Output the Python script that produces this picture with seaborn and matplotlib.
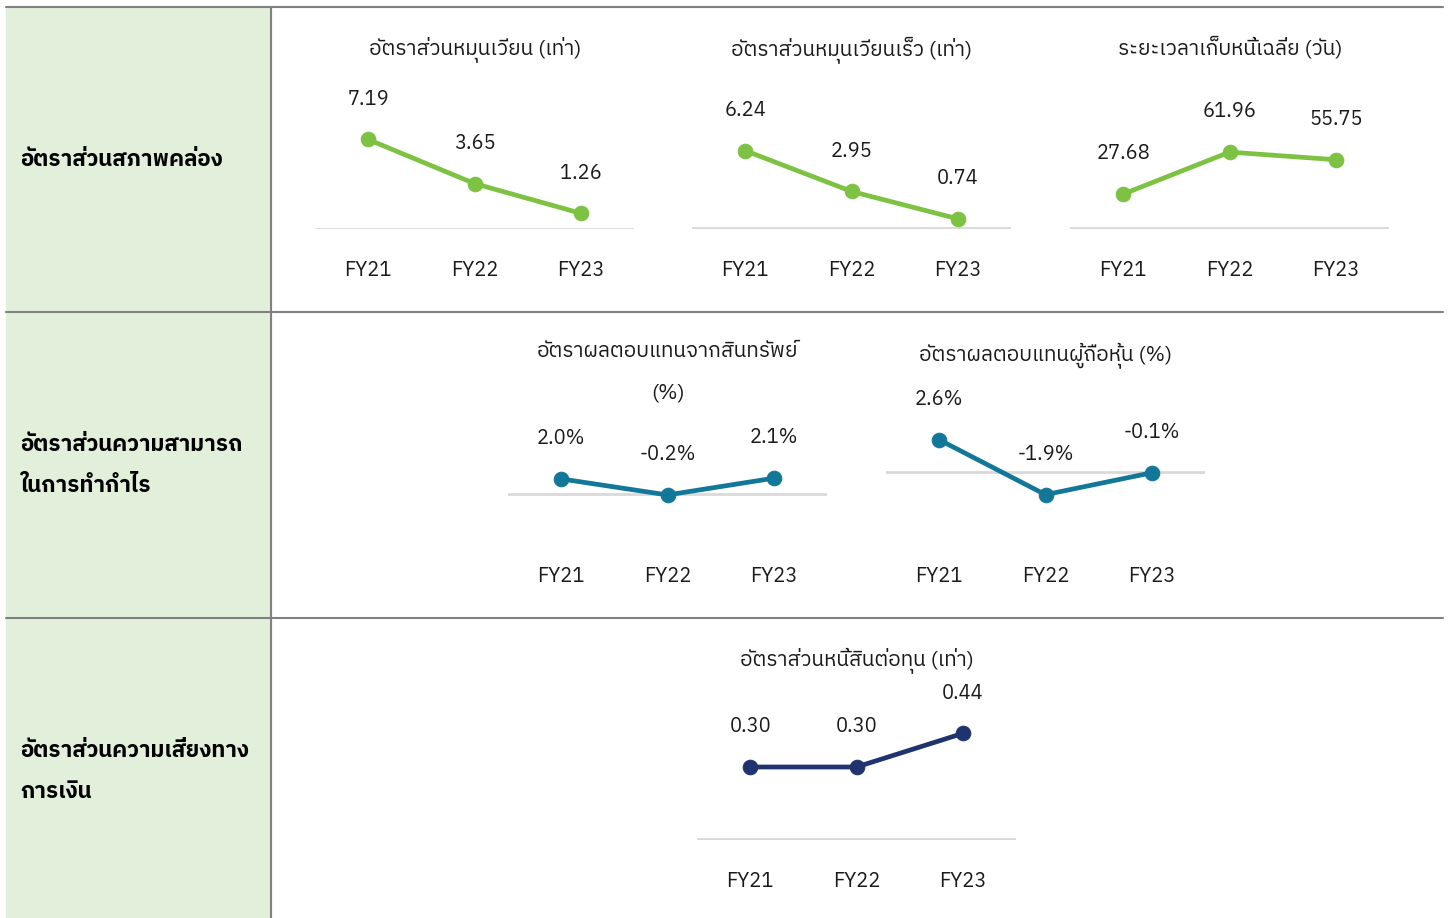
import numpy as np
import pandas as pd
import matplotlib
matplotlib.use("Agg")
import matplotlib.pyplot as plt
import seaborn as sns
from matplotlib import font_manager, ft2font

# -----------------------------
# Data
# -----------------------------
years = ["FY21", "FY22", "FY23"]

current_ratio = [7.19, 3.65, 1.26]
quick_ratio = [6.24, 2.95, 0.74]
collection_days = [27.68, 61.96, 55.75]
roa = [2.0, -0.2, 2.1]
roe = [2.6, -1.9, -0.1]
de_ratio = [0.30, 0.30, 0.44]

row_labels = [
    "อัตราส่วนสภาพคล่อง",
    "อัตราส่วนความสามารถ\nในการทำกำไร",
    "อัตราส่วนความเสี่ยงทาง\nการเงิน",
]

titles = [
    "อัตราส่วนหมุนเวียน (เท่า)",
    "อัตราส่วนหมุนเวียนเร็ว (เท่า)",
    "ระยะเวลาเก็บหนี้เฉลี่ย (วัน)",
    "อัตราผลตอบแทนจากสินทรัพย์\n(%)",
    "อัตราผลตอบแทนผู้ถือหุ้น (%)",
    "อัตราส่วนหนี้สินต่อทุน (เท่า)",
]

# -----------------------------
# Font with Thai glyphs
# -----------------------------
thai_fonts = []
for f in font_manager.fontManager.ttflist:
    try:
        cmap = ft2font.FT2Font(f.fname).get_charmap()
    except Exception:
        continue
    if 0x0E01 in cmap and f.name not in thai_fonts:
        thai_fonts.append(f.name)

thai_fonts.sort(key=lambda n: (0 if "Thai" in n else 1, n))

sns.set_theme(style="white")
plt.rcParams["font.family"] = thai_fonts[:1] + ["DejaVu Sans"]

W, H = 1451, 918
fig = plt.figure(figsize=(W / 100, H / 100), dpi=100)

# -----------------------------
# Table background
# -----------------------------
bg = fig.add_axes([0, 0, 1, 1])
bg.set_xlim(0, W)
bg.set_ylim(H, 0)
bg.axis("off")
bg.add_patch(plt.Rectangle((6, 7), 265, H - 7, color="#E2EFDA", zorder=0))
for y in [7, 312, 618]:
    bg.plot([6, 1443], [y, y], color="#808080", lw=1.5)
bg.plot([271, 271], [7, H], color="#808080", lw=1.5)

for label, y in zip(row_labels, [160, 465, 771]):
    bg.text(20, y, label, fontsize=16, fontweight="bold", color="black",
            va="center", ha="left", linespacing=2.2)


# -----------------------------
# Line panels
# -----------------------------
def draw_panel(cx, base_y, tick_y, scale, values, fmt, color, title, title_y):
    left = cx - 160
    top = title_y + 25
    bottom = tick_y - 40
    ax = fig.add_axes([left / W, 1 - bottom / H, 319 / W, (bottom - top) / H])
    ax.patch.set_alpha(0)

    sns.lineplot(x=years, y=values, ax=ax, color=color, marker="o",
                 linewidth=3.4, markersize=10.5, markeredgecolor=color, zorder=3)
    ax.axhline(0, color="#D9D9D9", lw=2, zorder=1)

    ax.set_xlim(-0.5, 2.5)
    ax.set_ylim(-(bottom - base_y) / scale, (base_y - top) / scale)

    for i, v in enumerate(values):
        ax.annotate(fmt.format(v), (i, v), xytext=(0, 29), textcoords="offset points",
                    ha="center", va="center", fontsize=14.5, color="#1A1A1A")

    ax.set_xticks(range(3))
    ax.set_xticklabels(years, fontsize=14.5, color="#1A1A1A")
    ax.tick_params(axis="x", length=0, pad=23)
    ax.set_yticks([])
    ax.set_xlabel("")
    ax.set_ylabel("")
    for s in ax.spines.values():
        s.set_visible(False)

    fig.text(cx / W, 1 - title_y / H, title, ha="center", va="top",
             fontsize=15, color="#1A1A1A", linespacing=2.5)
    return ax


green = "#7DC242"
teal = "#127799"
navy = "#1F346F"

draw_panel(475, 229, 269, 12.45, current_ratio, "{:.2f}", green, titles[0], 36)
draw_panel(852, 228, 269, 12.4, quick_ratio, "{:.2f}", green, titles[1], 36)
draw_panel(1230, 228, 269, 1.225, collection_days, "{:.2f}", green, titles[2], 36)
draw_panel(668, 493.5, 575, 7.3, roa, "{:.1f}%", teal, titles[3], 342)
draw_panel(1046, 471.5, 575, 12.2, roe, "{:.1f}%", teal, titles[4], 342)
draw_panel(857, 839, 880, 240, de_ratio, "{:.2f}", navy, titles[5], 647)

plt.savefig("out.png", dpi=100)
